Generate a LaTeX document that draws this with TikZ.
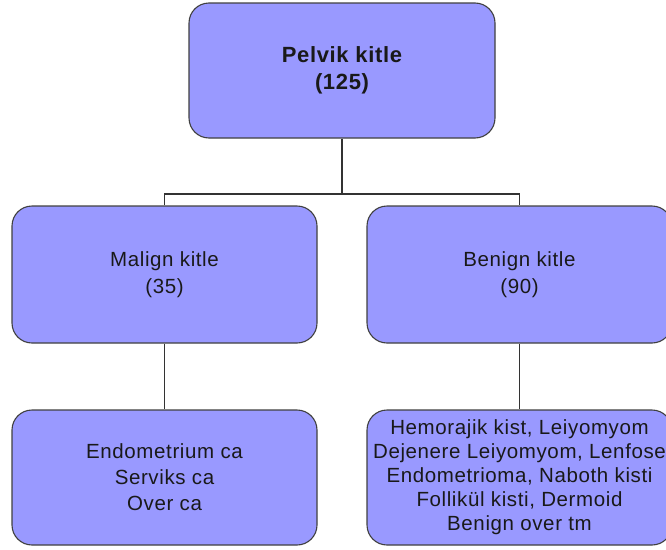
\documentclass[tikz,border=0pt]{standalone}
\usepackage{fontspec}
\setmainfont{Liberation Sans}[LetterSpace=3]
\definecolor{boxfill}{HTML}{9999FF}
\definecolor{boxline}{HTML}{404040}
\begin{document}
\begin{tikzpicture}[x=1pt,y=-1pt,
  kbox/.style={draw=boxline, fill=boxfill, line width=1.1pt, rounded corners=20pt,
    minimum width=305pt, inner sep=0pt, align=center, text=black!90},
  conn/.style={draw=black!80, line width=1.1pt}]
\useasboundingbox (0,0) rectangle (666,549);
\node[kbox, minimum width=306pt, minimum height=135pt,
  font=\fontsize{22}{27}\selectfont\bfseries] (top) at (342,70.5) {Pelvik kitle\\(125)};
\node[kbox, minimum height=137pt, font=\fontsize{20.5}{27}\selectfont] (malign) at (164.5,274.5) {Malign kitle\\(35)};
\node[kbox, minimum height=137pt, font=\fontsize{20.5}{27}\selectfont] (benign) at (519.5,274.5) {Benign kitle\\(90)};
\node[kbox, minimum height=135pt, font=\fontsize{20.5}{26}\selectfont] (endo) at (164.5,477.5) {Endometrium ca\\Serviks ca\\Over ca};
\node[kbox, minimum height=135pt, font=\fontsize{20.5}{24}\selectfont] (hemo) at (519.5,477.5) {Hemorajik kist, Leiyomyom\\Dejenere Leiyomyom, Lenfose\\Endometrioma, Naboth kisti\\Follikül kisti, Dermoid\\Benign over tm};
\coordinate (hl) at (164.5,194);
\coordinate (hr) at (519.5,194);
\draw[conn] (top.south) -- (top.south |- hl);
\draw[conn] (malign.north) -- (hl) -- (hr) -- (benign.north);
\draw[conn] (malign.south) -- (endo.north);
\draw[conn] (benign.south) -- (hemo.north);
\end{tikzpicture}
\end{document}
